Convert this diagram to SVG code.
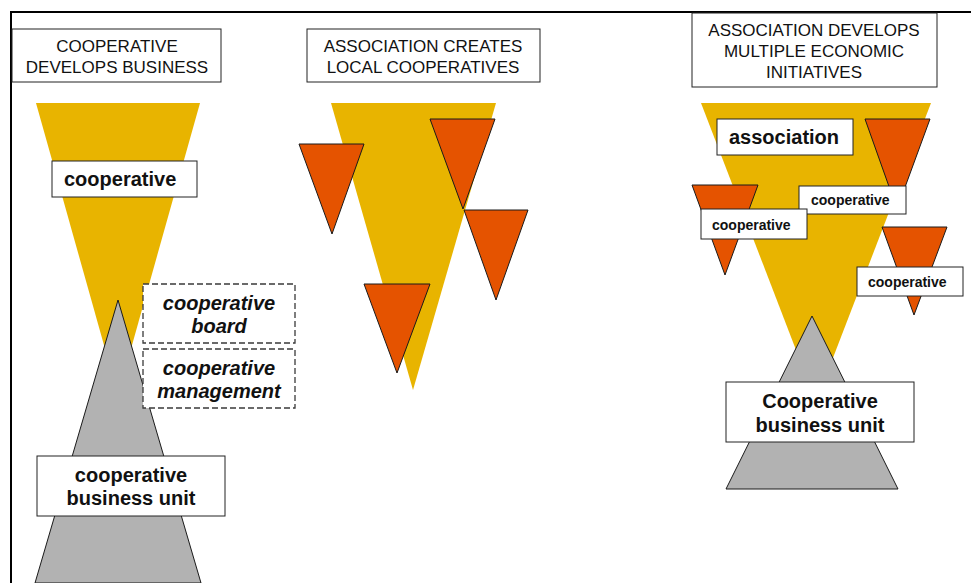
<svg xmlns="http://www.w3.org/2000/svg" width="971" height="583" viewBox="0 0 971 583">
<style>
.frame{fill:none;stroke:#000;stroke-width:2}
.yel{fill:#E8B400;stroke:none}
.ora{fill:#E55300;stroke:#1a1a1a;stroke-width:1}
.gry{fill:#B2B2B2;stroke:#1a1a1a;stroke-width:1}
.box{fill:#fff;stroke:#222;stroke-width:1}
.dash{fill:#fff;stroke:#3a3a3a;stroke-width:1.3;stroke-dasharray:6 3}
.ttl{font-family:"Liberation Sans",Arial,sans-serif;font-size:17px;fill:#111;text-anchor:middle}
.lbl{font-family:"Liberation Sans",Arial,sans-serif;font-size:20px;font-weight:bold;fill:#111}
.lblc{font-family:"Liberation Sans",Arial,sans-serif;font-size:20px;font-weight:bold;fill:#111;text-anchor:middle}
.ital{font-family:"Liberation Sans",Arial,sans-serif;font-size:20px;font-weight:bold;font-style:italic;fill:#111;text-anchor:middle}
.sm{font-family:"Liberation Sans",Arial,sans-serif;font-size:14px;font-weight:bold;fill:#111}
</style>
<path class="frame" d="M11,583 V12 H971"/>
<g id="connectors"></g>

<!-- Section 1 -->
<g id="title1">
<rect class="box" x="12" y="29" width="209" height="53"/>
<text class="ttl" x="117" y="52">COOPERATIVE</text>
<text class="ttl" x="117" y="73">DEVELOPS BUSINESS</text>
</g>
<g id="coop-funnel-1">
<polygon class="yel" points="36,103 200,103 118,395"/>
</g>
<g id="coop-label-1">
<rect class="box" x="52" y="161" width="145" height="36"/>
<text class="lbl" x="64" y="186">cooperative</text>
</g>
<g id="cbu-triangle-1">
<polygon class="gry" points="118,300 201,583 35,583"/>
</g>
<g id="coop-board">
<rect class="dash" x="143" y="284" width="152" height="59"/>
<text class="ital" x="219" y="310">cooperative</text>
<text class="ital" x="219" y="333">board</text>
</g>
<g id="coop-management">
<rect class="dash" x="143" y="349" width="152" height="59"/>
<text class="ital" x="219" y="375">cooperative</text>
<text class="ital" x="219" y="398">management</text>
</g>
<g id="cbu-label-1">
<rect class="box" x="37" y="456" width="188" height="60"/>
<text class="lblc" x="131" y="482">cooperative</text>
<text class="lblc" x="131" y="505">business unit</text>
</g>

<!-- Section 2 -->
<g id="title2">
<rect class="box" x="307" y="29" width="233" height="53"/>
<text class="ttl" x="423" y="52">ASSOCIATION CREATES</text>
<text class="ttl" x="423" y="73">LOCAL COOPERATIVES</text>
</g>
<g id="assoc-funnel-2">
<polygon class="yel" points="331,103 496,103 413,390"/>
</g>
<g id="local-coop-a"><polygon class="ora" points="299,144 364,144 332,234"/></g>
<g id="local-coop-b"><polygon class="ora" points="430,119 495,119 463,209"/></g>
<g id="local-coop-c"><polygon class="ora" points="464,210 528,210 496,300"/></g>
<g id="local-coop-d"><polygon class="ora" points="364,284 430,284 397,373"/></g>

<!-- Section 3 -->
<g id="title3">
<rect class="box" x="692" y="13" width="245" height="74"/>
<text class="ttl" x="814" y="36">ASSOCIATION DEVELOPS</text>
<text class="ttl" x="814" y="57">MULTIPLE ECONOMIC</text>
<text class="ttl" x="814" y="78">INITIATIVES</text>
</g>
<g id="assoc-funnel-3">
<polygon class="yel" points="701,103 931,103 816,402"/>
</g>
<g id="cbu-triangle-3">
<polygon class="gry" points="812,316 898,489 726,489"/>
</g>
<g id="assoc-label">
<rect class="box" x="717" y="119" width="136" height="36"/>
<text class="lbl" x="729" y="144">association</text>
</g>
<g id="initiative-a"><polygon class="ora" points="865,119 930,119 897,209"/></g>
<g id="initiative-b"><polygon class="ora" points="692,185 758,185 725,275"/></g>
<g id="initiative-c"><polygon class="ora" points="882,227 947,227 914,315"/></g>
<g id="coop-label-a">
<rect class="box" x="799" y="186" width="107" height="28"/>
<text class="sm" x="811" y="205">cooperative</text>
</g>
<g id="coop-label-b">
<rect class="box" x="701" y="209" width="106" height="30"/>
<text class="sm" x="712" y="230">cooperative</text>
</g>
<g id="coop-label-c">
<rect class="box" x="857" y="267" width="106" height="29"/>
<text class="sm" x="868" y="287">cooperative</text>
</g>
<g id="cbu-label-3">
<rect class="box" x="726" y="382" width="188" height="60"/>
<text class="lblc" x="820" y="408">Cooperative</text>
<text class="lblc" x="820" y="432">business unit</text>
</g>
</svg>
